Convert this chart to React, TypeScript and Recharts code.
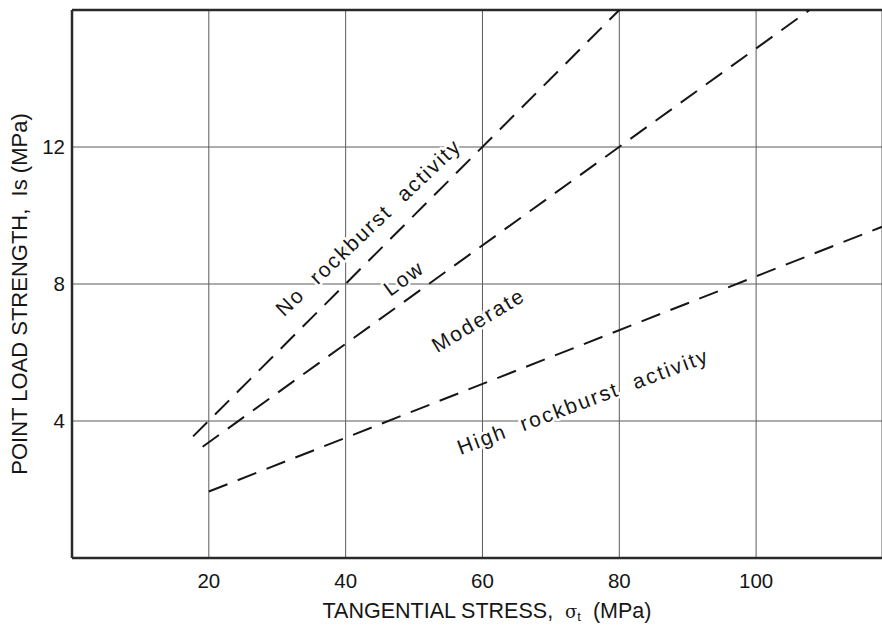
import React from 'react';
import { ComposedChart, Line, XAxis, YAxis, CartesianGrid, ReferenceLine, Scatter, Label } from 'recharts';

const xTicks = [20, 40, 60, 80, 100];
const yTicks = [4, 8, 12];
const xDomain: [number, number] = [0, 118.4];
const yDomain: [number, number] = [0, 16];

const noRockburstBoundary = [{ x: 17.7, y: 3.55 }, { x: 80, y: 16 }];
const lowModerateBoundary = [{ x: 19.1, y: 3.25 }, { x: 107.8, y: 16 }];
const highBoundary = [{ x: 20, y: 1.94 }, { x: 118.4, y: 9.67 }];

const regionLabelText = ['No  rockburst  activity', 'Low', 'Moderate', 'High  rockburst  activity'];
const regionLabelX = [43.3, 48.5, 59.4, 74.7];
const regionLabelY = [9.66, 8.18, 6.95, 4.58];
const regionLabelAngle = [-43.5, -36, -31, -20.5];

const regionLabels = regionLabelText.map((text, i) => ({
  x: regionLabelX[i],
  y: regionLabelY[i],
  angle: regionLabelAngle[i],
  text,
}));

const FONT = '"Liberation Sans", Arial, Helvetica, sans-serif';
const INK = '#161616';
const GRID = '#5a5a5a';
const FRAME = '#2a2a2a';

const RegionLabel = (props: any) => {
  const { cx, cy, payload } = props;
  if (cx == null || cy == null) return null;
  return (
    <text
      x={cx}
      y={cy}
      transform={`rotate(${payload.angle} ${cx} ${cy})`}
      textAnchor="middle"
      dominantBaseline="central"
      fontFamily={FONT}
      fontSize={21}
      letterSpacing={2}
      fill={INK}
      stroke="#ffffff"
      strokeWidth={5}
      strokeLinejoin="round"
      paintOrder="stroke"
      style={{ whiteSpace: 'pre' }}
    >
      {payload.text}
    </text>
  );
};

const XTitle = (props: any) => {
  const vb = props.viewBox || {};
  const cx = vb.x + vb.width / 2 + 10;
  const cy = vb.y + 53;
  return (
    <text x={cx} y={cy} textAnchor="middle" dominantBaseline="central" fontFamily={FONT} fontSize={21.5} fill={INK} style={{ whiteSpace: 'pre' }}>
      <tspan>{'TANGENTIAL STRESS,  '}</tspan>
      <tspan fontFamily='"DejaVu Serif", serif' fontSize={18}>σ</tspan>
      <tspan fontSize={13} dy={5}>t</tspan>
      <tspan dy={-5}>{'  (MPa)'}</tspan>
    </text>
  );
};

const YTitle = (props: any) => {
  const vb = props.viewBox || {};
  const cx = vb.x + 19;
  const cy = vb.y + vb.height / 2 + 10;
  return (
    <text
      x={cx}
      y={cy}
      transform={`rotate(-90 ${cx} ${cy})`}
      textAnchor="middle"
      dominantBaseline="central"
      fontFamily={FONT}
      fontSize={22}
      fill={INK}
      style={{ whiteSpace: 'pre' }}
    >
      {'POINT LOAD STRENGTH,  Is (MPa)'}
    </text>
  );
};

export default function App() {
  return (
    <div style={{ position: 'absolute', left: 0, top: 0, width: 882, height: 626, background: '#fff' }}>
      <ComposedChart width={882} height={626} margin={{ top: 10, right: 0, bottom: 0, left: 0 }}>
        <CartesianGrid stroke={GRID} strokeWidth={1} horizontal={true} vertical={true} />
        <XAxis
          dataKey="x"
          type="number"
          domain={xDomain}
          ticks={xTicks}
          allowDataOverflow
          tickLine={false}
          axisLine={{ stroke: FRAME, strokeWidth: 2.5 }}
          tick={{ fontSize: 20.5, fill: INK, fontFamily: FONT }}
          tickMargin={9}
          height={68}
        >
          <Label content={<XTitle />} />
        </XAxis>
        <YAxis
          dataKey="y"
          type="number"
          domain={yDomain}
          ticks={yTicks}
          allowDataOverflow
          tickLine={false}
          axisLine={{ stroke: FRAME, strokeWidth: 2.5 }}
          tick={{ fontSize: 20.5, fill: INK, fontFamily: FONT }}
          tickMargin={1}
          width={72}
        >
          <Label content={<YTitle />} />
        </YAxis>
        <ReferenceLine y={16} stroke={FRAME} strokeWidth={2.5} />
        <Line data={noRockburstBoundary} dataKey="y" type="linear" stroke={INK} strokeWidth={2} strokeDasharray="20 11" dot={false} activeDot={false} isAnimationActive={false} />
        <Line data={lowModerateBoundary} dataKey="y" type="linear" stroke={INK} strokeWidth={2} strokeDasharray="20 11" dot={false} activeDot={false} isAnimationActive={false} />
        <Line data={highBoundary} dataKey="y" type="linear" stroke={INK} strokeWidth={2} strokeDasharray="20 11" dot={false} activeDot={false} isAnimationActive={false} />
        <Scatter data={regionLabels} dataKey="y" shape={<RegionLabel />} isAnimationActive={false} />
      </ComposedChart>
    </div>
  );
}
